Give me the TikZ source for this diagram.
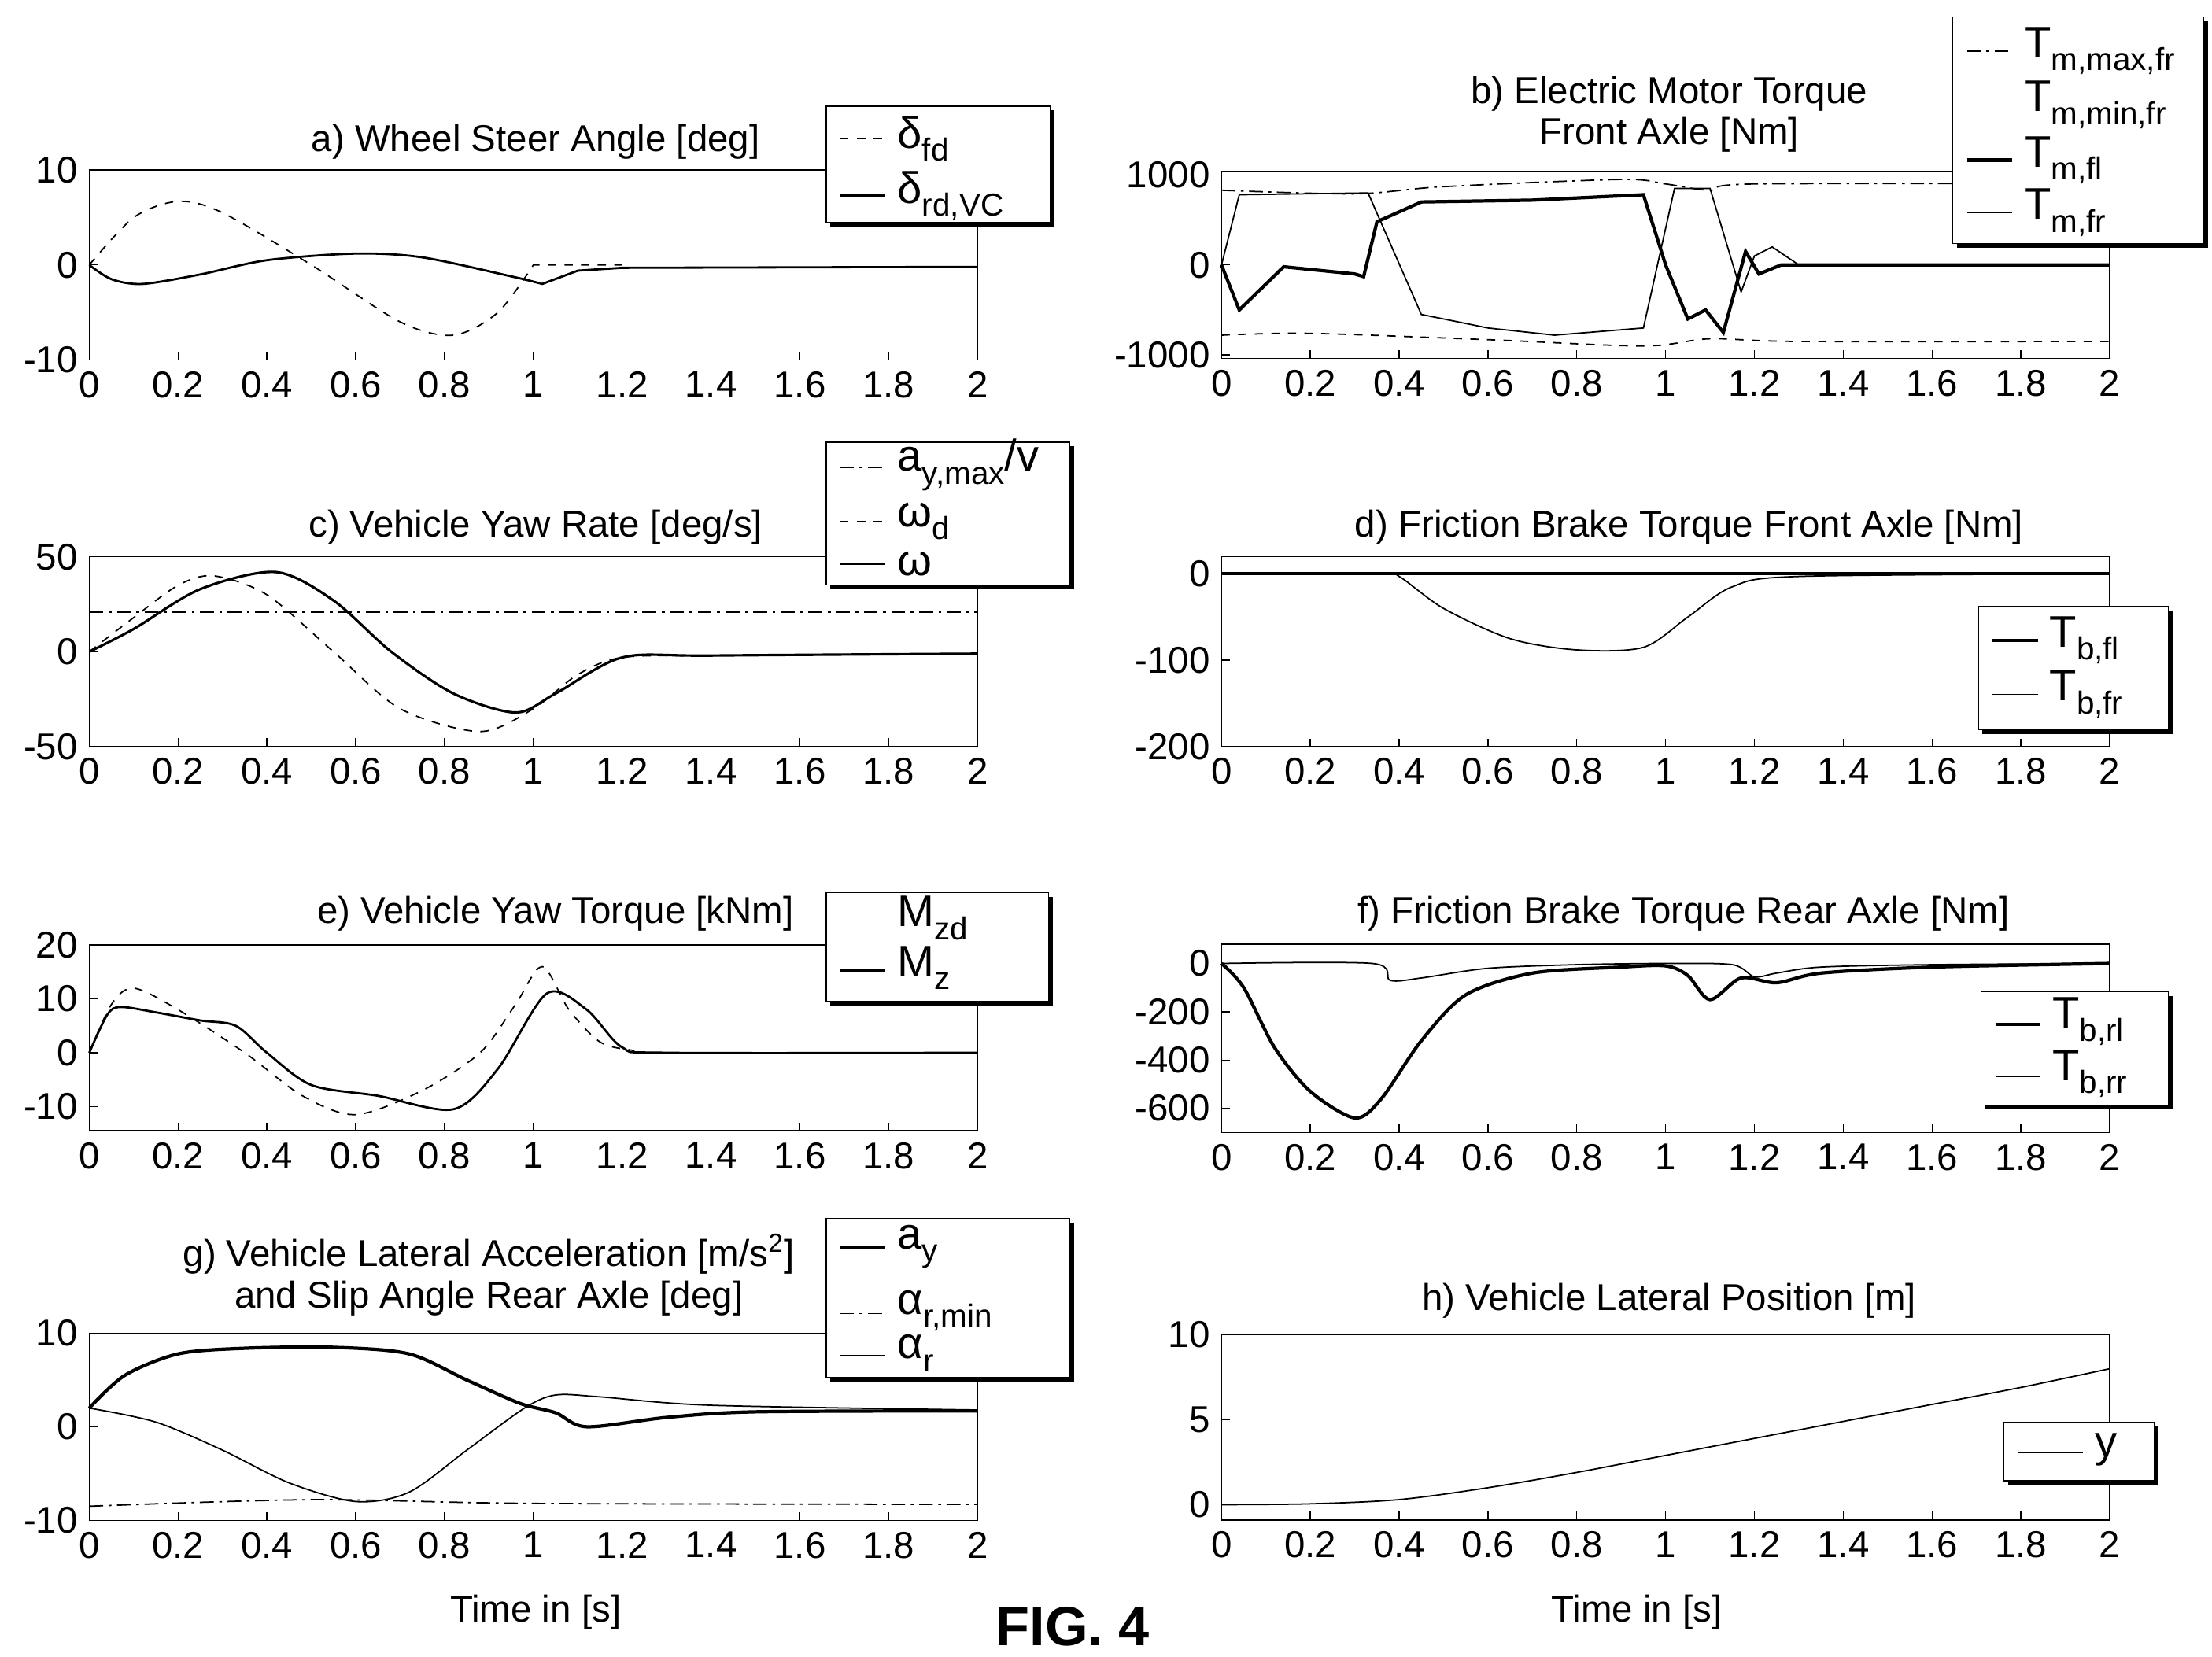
\documentclass[tikz,border=0pt]{standalone}
\usepackage{fontspec}
\setmainfont{Liberation Sans}
\usetikzlibrary{positioning}
\newcommand\lsub[1]{\raisebox{-0.55ex}{\fontsize{11.5}{12}\selectfont #1}}
% frame of one panel: ymin, ymax, list of y ticks
\newcommand\plotframe[3]{%
  \draw[thin] (0,#1) rectangle (2,#2);
  \foreach \t/\l in {0/0,0.2/0.2,0.4/0.4,0.6/0.6,0.8/0.8,1/1,1.2/1.2,1.4/1.4,1.6/1.6,1.8/1.8,2/2}{
    \draw (\t,#1) -- ++(0pt,3pt);
    \node[ticklab, anchor=north] at (\t,#1) {\l};}
  \foreach \v in {#3}{
    \draw (0,\v) -- ++(3pt,0pt);
    \node[ticklab, anchor=east] at (0,\v) {\v};}}
\newcommand\legbox[4]{%
  \fill (#1+3,#2+3) rectangle (#3+3,#4+3);
  \filldraw[fill=white] (#1,#2) rectangle (#3,#4);}
\begin{document}
\begin{tikzpicture}[x=0.018cm, y=-0.018cm,
    ticklab/.style={font=\fontsize{13.5}{15}\selectfont, inner sep=4pt},
    title/.style={font=\fontsize{13.5}{15}\selectfont, inner sep=1pt},
    leg/.style={font=\fontsize{16}{18}\selectfont, anchor=west, inner sep=0pt},
    thick curve/.style={line width=1.2pt},
    thin curve/.style={line width=0.5pt},
    dashdot/.style={dash pattern=on 5pt off 2pt on 1pt off 2pt}]
\useasboundingbox (0,0) rectangle (1561,1169);

% a) wheel steer angle
\node[title] (ta) at (378,100) {a) Wheel Steer Angle [deg]};
\begin{scope}[shift={(63,187)}, x=5.643cm, y=0.1206cm]
  \plotframe{-10}{10}{-10,0,10}
  \draw[dashed, thin curve] plot[smooth] coordinates {(0,0) (0.1,5) (0.2,6.7) (0.3,5.5) (0.5,0) (0.7,-6) (0.82,-7.4) (0.92,-5) (1.0,0)} -- (1.2,0);
  \draw[line width=0.8pt] plot[smooth] coordinates {(0,0) (0.05,-1.5) (0.12,-2) (0.25,-1) (0.4,0.5) (0.6,1.2) (0.75,0.8) (0.95,-1.2) (1.02,-2)} -- (1.1,-0.6) -- (1.2,-0.3) -- (2,-0.2);
\end{scope}
\legbox{583}{75}{741}{157}
\draw[dashed] (593,98) -- (625,98); \node[leg] (la1) at (633,98) {δ\lsub{fd}};
\draw[line width=0.8pt] (593,138) -- (625,138); \node[leg] (la2) at (633,138) {δ\lsub{rd,VC}};

% b) electric motor torque
\node[title] (tb1) at (1178,66) {b) Electric Motor Torque};
\node[title, below=0pt of tb1] (tb2) {Front Axle [Nm]};
\begin{scope}[shift={(862,187)}, x=5.643cm, y=0.001152cm]
  \plotframe{-1040}{1040}{-1000,0,1000}
  \draw[dashdot, thin curve] plot[smooth] coordinates {(0,830) (0.3,790) (0.5,870) (0.9,950) (1.0,900) (1.1,830) (1.2,900) (2,900)};
  \draw[dashed, thin curve] plot[smooth] coordinates {(0,-780) (0.2,-760) (0.6,-830) (0.95,-900) (1.1,-820) (1.3,-850) (2,-850)};
  \draw[thick curve] (0,0) -- (0.04,-500) -- (0.14,-20) -- (0.3,-100) -- (0.32,-130) -- (0.35,480) -- (0.45,700) -- (0.7,720) -- (0.95,780) -- (1.0,0) -- (1.05,-600) -- (1.09,-500) -- (1.13,-750) -- (1.18,150) -- (1.21,-100) -- (1.26,0) -- (2,0);
  \draw[thin curve] (0,0) -- (0.04,780) -- (0.33,800) -- (0.45,-550) -- (0.6,-700) -- (0.75,-780) -- (0.95,-700) -- (1.02,850) -- (1.1,850) -- (1.17,-300) -- (1.2,100) -- (1.24,200) -- (1.3,0) -- (2,0);
\end{scope}
\legbox{1378}{12}{1555}{172}
\draw[dashdot] (1388,36) -- (1420,36); \node[leg] (lb1) at (1428,36) {T\lsub{m,max,fr}};
\draw[dashed] (1388,74) -- (1420,74); \node[leg] (lb2) at (1428,74) {T\lsub{m,min,fr}};
\draw[thick curve] (1388,113) -- (1420,113); \node[leg] (lb3) at (1428,113) {T\lsub{m,fl}};
\draw[thin curve] (1388,150) -- (1420,150); \node[leg] (lb4) at (1428,150) {T\lsub{m,fr}};

% c) yaw rate
\node[title] (tc) at (378,372) {c) Vehicle Yaw Rate [deg/s]};
\begin{scope}[shift={(63,460)}, x=5.643cm, y=0.02412cm]
  \plotframe{-50}{50}{-50,0,50}
  \draw[dashdot, thin curve] (0,21) -- (2,21);
  \draw[dashed, thin curve] plot[smooth] coordinates {(0,0) (0.1,18) (0.2,35) (0.28,40) (0.4,30) (0.55,0) (0.7,-30) (0.88,-42) (1.0,-30) (1.1,-12) (1.2,-3) (1.4,-2) (2,-1)};
  \draw[line width=0.9pt] plot[smooth] coordinates {(0,0) (0.1,12) (0.25,33) (0.42,42) (0.55,27) (0.68,0) (0.82,-22) (0.96,-32) (1.05,-22) (1.2,-3) (1.4,-2) (2,-1)};
\end{scope}
\legbox{583}{312}{755}{413}
\draw[dashdot] (593,330) -- (625,330); \node[leg] (lc1) at (633,328) {a\lsub{y,max}/v};
\draw[dashed] (593,368) -- (625,368); \node[leg] (lc2) at (633,368) {ω\lsub{d}};
\draw[line width=0.9pt] (593,398) -- (625,398); \node[leg] (lc3) at (633,398) {ω};

% d) friction brake front
\node[title] (td) at (1192,372) {d) Friction Brake Torque Front Axle [Nm]};
\begin{scope}[shift={(862,405)}, x=5.643cm, y=0.01098cm]
  \plotframe{-200}{20}{-200,-100,0}
  \draw[thin curve] plot[smooth] coordinates {(0,0) (0.36,0) (0.4,-3) (0.5,-40) (0.65,-75) (0.8,-88) (0.95,-85) (1.05,-50) (1.15,-15) (1.3,-3) (2,0)};
  \draw[thick curve] (0,0) -- (2,0);
\end{scope}
\legbox{1396}{428}{1530}{515}
\draw[thick curve] (1406,452) -- (1438,452); \node[leg] (ld1) at (1446,452) {T\lsub{b,fl}};
\draw[thin curve] (1406,490) -- (1438,490); \node[leg] (ld2) at (1446,490) {T\lsub{b,fr}};

% e) yaw torque
\node[title] (te) at (392,645) {e) Vehicle Yaw Torque [kNm]};
\begin{scope}[shift={(63,743)}, x=5.643cm, y=0.0684cm]
  \plotframe{-14.5}{20}{-10,0,10,20}
  \draw[dashed, thin curve] plot[smooth] coordinates {(0,0) (0.05,9) (0.1,12) (0.2,8) (0.35,0) (0.48,-8) (0.6,-11.5) (0.75,-7) (0.88,0) (0.96,9) (1.02,16) (1.08,8) (1.15,2) (1.22,0.5) (1.3,0) (2,0)};
  \draw[line width=0.8pt] plot[smooth] coordinates {(0,0) (0.04,7) (0.07,8.5) (0.15,7.5) (0.25,6) (0.33,5) (0.4,0) (0.5,-6) (0.65,-8) (0.82,-10.5) (0.92,-3) (1.03,11) (1.12,8) (1.2,1) (1.3,0) (2,0)};
\end{scope}
\legbox{583}{630}{740}{707}
\draw[dashed] (593,650) -- (625,650); \node[leg] (le1) at (633,648) {M\lsub{zd}};
\draw[line width=0.8pt] (593,685) -- (625,685); \node[leg] (le2) at (633,683) {M\lsub{z}};

% f) friction brake rear
\node[title] (tf) at (1188,645) {f) Friction Brake Torque Rear Axle [Nm]};
\begin{scope}[shift={(862,680)}, x=5.643cm, y=0.00306cm]
  \plotframe{-700}{80}{-600,-400,-200,0}
  \draw[thin curve] plot[smooth] coordinates {(0,0) (0.34,0) (0.38,-70) (0.45,-60) (0.6,-20) (0.8,-5) (1.0,0) (1.15,-5) (1.2,-55) (1.25,-40) (1.35,-15) (1.6,-5) (2,0)};
  \draw[thick curve] plot[smooth] coordinates {(0,0) (0.05,-100) (0.12,-350) (0.2,-530) (0.3,-640) (0.36,-560) (0.45,-320) (0.55,-130) (0.7,-40) (0.9,-15) (1.0,-10) (1.05,-50) (1.1,-150) (1.17,-60) (1.25,-80) (1.35,-40) (1.6,-15) (2,0)};
\end{scope}
\legbox{1398}{700}{1530}{780}
\draw[thick curve] (1408,723) -- (1440,723); \node[leg] (lf1) at (1448,721) {T\lsub{b,rl}};
\draw[thin curve] (1408,760) -- (1440,760); \node[leg] (lf2) at (1448,758) {T\lsub{b,rr}};

% g) lateral acceleration
\node[title] (tg1) at (345,885) {g) Vehicle Lateral Acceleration [m/s\textsuperscript{2}]};
\node[title, below=0pt of tg1] (tg2) {and Slip Angle Rear Axle [deg]};
\begin{scope}[shift={(63,1007)}, x=5.643cm, y=0.1188cm]
  \plotframe{-10}{10}{-10,0,10}
  \draw[dashdot, thin curve] plot[smooth] coordinates {(0,-8.5) (0.5,-7.8) (1,-8.2) (2,-8.3)};
  \draw[thin curve] plot[smooth] coordinates {(0,2) (0.15,0.5) (0.3,-2.5) (0.45,-6) (0.6,-8) (0.72,-7) (0.85,-2.5) (0.98,2) (1.05,3.4) (1.15,3.2) (1.4,2.3) (2,1.8)};
  \draw[thick curve] plot[smooth] coordinates {(0,2) (0.08,5.5) (0.2,7.8) (0.35,8.4) (0.55,8.5) (0.72,7.8) (0.85,5) (0.97,2.5) (1.05,1.5) (1.12,0) (1.3,1) (1.5,1.6) (2,1.7)};
\end{scope}
\legbox{583}{860}{755}{972}
\draw[thick curve] (593,880) -- (625,880); \node[leg] (lg1) at (633,880) {a\lsub{y}};
\draw[dashdot] (593,927) -- (625,927); \node[leg] (lg2) at (633,925) {α\lsub{r,min}};
\draw[thin curve] (593,957) -- (625,957); \node[leg] (lg3) at (633,955) {α\lsub{r}};
\node[title] (xg) at (378,1138) {Time in [s]};

% h) lateral position
\node[title] (th) at (1178,918) {h) Vehicle Lateral Position [m]};
\begin{scope}[shift={(862,1062)}, x=5.643cm, y=0.216cm]
  \plotframe{-0.9}{10}{0,5,10}
  \draw[thin curve] plot[smooth] coordinates {(0,0) (0.2,0.05) (0.4,0.3) (0.6,1) (0.8,1.9) (1.0,2.9) (1.2,3.9) (1.4,4.9) (1.6,5.9) (1.8,6.9) (2,8)};
\end{scope}
\legbox{1414}{1004}{1520}{1045}
\draw[thin curve] (1424,1025) -- (1470,1025); \node[leg] (lh1) at (1478,1023) {y};
\node[title] (xh) at (1155,1138) {Time in [s]};

\node[font=\bfseries\fontsize{20}{22}\selectfont] (fig) at (757,1148) {FIG. 4};
\end{tikzpicture}
\end{document}
